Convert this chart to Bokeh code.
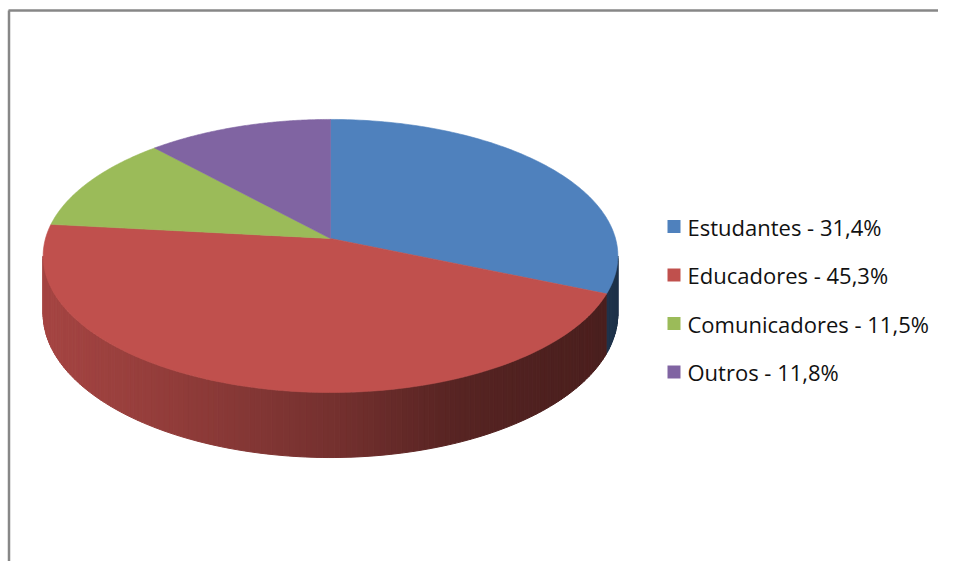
import numpy as np
from bokeh.plotting import figure
from bokeh.models import Range1d
from bokeh.core.properties import value
from bokeh.embed import file_html
from bokeh.resources import INLINE

# ---- data ----
categories = ["Estudantes", "Educadores", "Comunicadores", "Outros"]
shares = [31.4, 45.3, 11.5, 11.8]
legend_labels = ["Estudantes - 31,4%", "Educadores - 45,3%",
                 "Comunicadores - 11,5%", "Outros - 11,8%"]
colors = ["#4f81bd", "#c0504d", "#9bbb59", "#8064a2"]

# ---- geometry (pixel coordinates) ----
CX, CY = 330.0, 238.0      # projected pie centre
A, B, C = 285.0, 0.128, 134.3
H0 = 56.7                  # side depth


def proj(theta_deg, drop=False):
    th = np.radians(theta_deg)
    X = np.sin(th)
    Y = -np.cos(th)
    d = 1.0 - B * Y
    sx = CX + A * X / d
    sy = CY + C * Y / d
    if drop:
        sy = sy + H0 / d
    return sx, sy


def hex2rgb(h):
    h = h.lstrip("#")
    return tuple(int(h[i:i + 2], 16) for i in (0, 2, 4))


# shading of the side wall by horizontal position
shade_x = [40, 150, 330, 450, 550, 620]
shade_f = [0.865, 0.78, 0.615, 0.46, 0.405, 0.39]


def side_color(base, x):
    f = np.interp(x, shade_x, shade_f)
    r, g, b = hex2rgb(base)
    return "#%02x%02x%02x" % (int(r * f), int(g * f), int(b * f))


total = float(sum(shares))
bounds = np.concatenate([[0.0], np.cumsum(shares) / total * 360.0])

W, Hh = 938, 561
p = figure(width=W, height=Hh, x_range=Range1d(0, W), y_range=Range1d(Hh, 0),
           output_backend="svg", toolbar_location=None, min_border=0,
           x_axis_type=None, y_axis_type=None)
p.grid.visible = False
p.outline_line_color = None
p.background_fill_color = "white"
p.border_fill_color = "white"

# ---- visible side wall ----
th_left = 360.0 - np.degrees(np.arccos(-B))   # leftmost silhouette
th_right = np.degrees(np.arccos(-B))          # rightmost silhouette
xs_side, ys_side, cs_side = [], [], []
steps = np.arange(th_right, th_left, 1.0)
steps = np.append(steps, th_left)
for t0, t1 in zip(steps[:-1], steps[1:]):
    tm = 0.5 * (t0 + t1)
    idx = int(np.searchsorted(bounds, tm) - 1)
    idx = max(0, min(idx, len(colors) - 1))
    ax, ay = proj(np.array([t0, t1]))
    bx, by = proj(np.array([t1, t0]), drop=True)
    xs_side.append(list(ax) + list(bx))
    ys_side.append(list(ay) + list(by))
    cs_side.append(side_color(colors[idx], 0.5 * (ax[0] + ax[1])))
p.patches(xs_side, ys_side, fill_color=cs_side, line_color=cs_side, line_width=1)

# ---- top face slices ----
for i, col in enumerate(colors):
    t = np.linspace(bounds[i], bounds[i + 1], 120)
    ex, ey = proj(t)
    xs = [CX] + list(ex)
    ys = [CY] + list(ey)
    p.patch(xs, ys, fill_color=col, line_color=col, line_width=0.6)

# ---- legend ----
row_y = [226, 274.5, 323, 371.5]
p.rect(x=[673.5] * 4, y=row_y, width=13, height=13, fill_color=colors, line_color=None)
p.text(x=[687] * 4, y=row_y, text=legend_labels, text_baseline="middle",
       text_align="left", text_font=value("Open Sans"), text_font_size="22px",
       text_color="#111111")

# ---- chart area border (top and left visible) ----
p.line([8.5, 8.5], [Hh, 10], line_color="#878787", line_width=2.5)
p.line([8, W], [10, 10], line_color="#878787", line_width=2.5)

open("out.html", "w").write(file_html(p, INLINE))
